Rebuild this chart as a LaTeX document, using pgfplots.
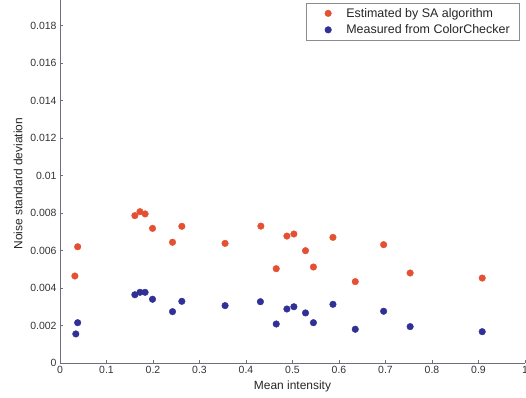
\documentclass[border=0pt]{standalone}
\usepackage{pgfplots}
\pgfplotsset{compat=1.18}
\usepackage{fontspec}
\setmainfont{Liberation Sans}
\definecolor{sared}{RGB}{228,80,50}
\definecolor{ccblue}{RGB}{48,48,150}
\definecolor{axgray}{RGB}{110,110,125}
\begin{document}
\begin{tikzpicture}
\pgfplotsset{myleg/.style={legend image code/.code={%
  \path (0bp,0bp) (30bp,0bp);
  \draw[mark repeat=2,mark phase=2,##1] plot coordinates {(0bp,0bp)(14bp,0bp)(28bp,0bp)};}}}
\begin{axis}[
  scale only axis,
  width=465bp, height=363bp,
  xmin=0, xmax=1, ymin=0, ymax=0.01936,
  axis lines*=left,
  axis line style={axgray, line width=0.8bp},
  xtick={0,0.1,...,1},
  ytick={0,0.002,0.004,0.006,0.008,0.01,0.012,0.014,0.016,0.018},
  scaled y ticks=false,
  yticklabel style={/pgf/number format/fixed,/pgf/number format/precision=3},
  xticklabel style={/pgf/number format/fixed,/pgf/number format/precision=1},
  /pgf/number format/assume math mode=true,
  tick align=inside,
  major tick length=3bp,
  tick style={axgray},
  ticklabel style={font=\fontsize{10.5}{12}\selectfont, text=black!80},
  xlabel={Mean intensity},
  ylabel={Noise standard deviation},
  label style={font=\fontsize{12}{14}\selectfont, text=black!85},
  xlabel style={at={(axis description cs:0.5,-0.0634)},anchor=center},
  ylabel style={at={(axis description cs:-0.0903,0.494)},anchor=center},
  legend style={at={(rel axis cs:0.989,0.992)}, anchor=north east,
    draw=black!45, font=\fontsize{12.5}{14}\selectfont, text=black!85,
    inner xsep=8bp, inner ysep=3bp, row sep=2bp},
  legend cell align=left,
]
\addplot[only marks, mark=*, mark size=3.3bp, sared, mark options={draw=sared, fill=sared}, myleg] coordinates {
(0.032,0.00464) (0.038,0.0062) (0.161,0.00786) (0.172,0.00807) (0.183,0.00795)
(0.199,0.00718) (0.242,0.00644) (0.262,0.00729) (0.355,0.00638) (0.432,0.0073)
(0.465,0.00503) (0.488,0.00677) (0.503,0.00688) (0.528,0.00599) (0.545,0.00512)
(0.587,0.0067) (0.635,0.00434) (0.696,0.00631) (0.753,0.0048) (0.908,0.00453)
};
\addlegendentry{Estimated by SA algorithm}
\addplot[only marks, mark=*, mark size=3.3bp, ccblue, mark options={draw=ccblue, fill=ccblue}, myleg] coordinates {
(0.034,0.00155) (0.038,0.00215) (0.161,0.00364) (0.172,0.00377) (0.183,0.00377)
(0.199,0.0034) (0.242,0.00274) (0.262,0.00329) (0.355,0.00306) (0.431,0.00327)
(0.465,0.00208) (0.488,0.00288) (0.503,0.003) (0.528,0.00267) (0.545,0.00215)
(0.587,0.00313) (0.635,0.0018) (0.696,0.00276) (0.753,0.00194) (0.908,0.00167)
};
\addlegendentry{Measured from ColorChecker}
\end{axis}
\pgfresetboundingbox
\path (-60bp,-35bp) rectangle (466bp,363bp);
\end{tikzpicture}
\end{document}
